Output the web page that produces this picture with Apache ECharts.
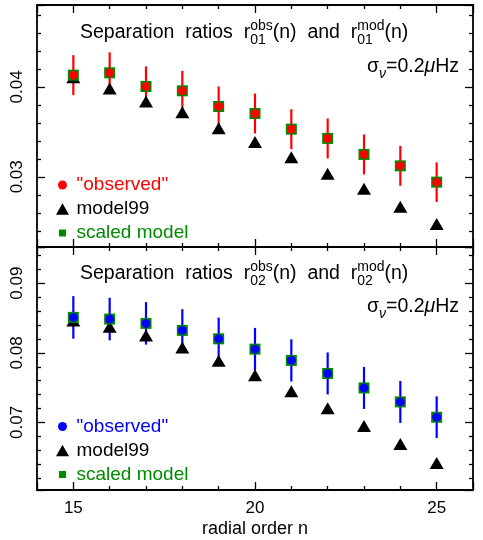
<!DOCTYPE html>
<html>
<head>
<meta charset="utf-8">
<script src="https://cdn.jsdelivr.net/npm/echarts@6.0.0/dist/echarts.min.js"></script>
<style>
html, body { margin: 0; padding: 0; background: #fff; }
#chart { width: 483px; height: 540px; }
</style>
</head>
<body>
<div id="chart"></div>
<script>
const FONT = '"Liberation Sans", Arial, sans-serif';

// radial order n
const radialOrder = [15, 16, 17, 18, 19, 20, 21, 22, 23, 24, 25];

// r01: "observed", model99, scaled model
const r01Observed = [0.0413, 0.04156, 0.04004, 0.03956, 0.03782, 0.03704, 0.0353, 0.03427, 0.03249, 0.03122, 0.02941];
const r01Error = [0.00222, 0.00228, 0.00224, 0.00222, 0.00222, 0.00222, 0.00222, 0.00222, 0.00222, 0.00222, 0.0022];
const r01Model99 = [0.04108, 0.03982, 0.03838, 0.03717, 0.03541, 0.03386, 0.03219, 0.03033, 0.02867, 0.02667, 0.02477];
const r01Scaled = [0.0413, 0.04156, 0.04004, 0.03956, 0.03782, 0.03704, 0.0353, 0.03427, 0.03249, 0.03122, 0.02941];

// r02: "observed", model99, scaled model
const r02Observed = [0.08509, 0.08485, 0.08423, 0.08322, 0.08201, 0.08053, 0.07891, 0.07704, 0.07496, 0.07295, 0.07075];
const r02Error = [0.00306, 0.00306, 0.00305, 0.00305, 0.00305, 0.00305, 0.00303, 0.00302, 0.00302, 0.00301, 0.003];
const r02Model99 = [0.08466, 0.08374, 0.0825, 0.08077, 0.07885, 0.07679, 0.07449, 0.07204, 0.0695, 0.0669, 0.06417];
const r02Scaled = [0.08509, 0.08485, 0.08423, 0.08322, 0.08201, 0.08053, 0.07891, 0.07704, 0.07496, 0.07295, 0.07075];

// axis ranges
const nRange = [14, 26];
const r01Range = [0.0222, 0.0491];
const r02Range = [0.0603, 0.0952];

const RED = '#ff0000', BLUE = '#0000ff', GREEN = '#008a00';

const legendText = {
    obs01: '"observed"', mod01: 'model99', sc01: 'scaled model',
    obs02: '"observed"', mod02: 'model99', sc02: 'scaled model'
};

const ICON_CIRCLE = 'path://M0 0M14 14M11.5 7A4.5 4.5 0 1 1 2.5 7A4.5 4.5 0 1 1 11.5 7Z';
const ICON_TRIANGLE = 'path://M0 0M14 14M7 1.2L13.5 12.8L0.5 12.8Z';
const ICON_SQUARE = 'path://M0 0M14 14M3.5 3.5L10.5 3.5L10.5 10.5L3.5 10.5Z';

const lineStyle = { color: '#000', width: 1.8 };
const tickStyle = { color: '#000', width: 1.3 };

function xAxisFor (gridIndex, position, showLabels) {
    return {
        type: 'value',
        gridIndex: gridIndex,
        position: position,
        min: nRange[0],
        max: nRange[1],
        splitNumber: 2,
        axisLine: { show: true, onZero: false, lineStyle: lineStyle },
        axisTick: { show: true, inside: true, length: 8, lineStyle: tickStyle },
        minorTick: { show: true, splitNumber: 5, length: 4, lineStyle: tickStyle },
        splitLine: { show: false },
        minorSplitLine: { show: false },
        axisLabel: {
            show: showLabels, margin: 10, color: '#000', fontSize: 17, fontFamily: FONT,
            showMinLabel: false, showMaxLabel: false
        },
        name: showLabels ? 'radial order n' : '',
        nameLocation: 'middle',
        nameGap: 30,
        nameTextStyle: { color: '#000', fontSize: 18, fontFamily: FONT }
    };
}

function yAxisFor (gridIndex, position, range, showLabels) {
    return {
        type: 'value',
        gridIndex: gridIndex,
        position: position,
        min: range[0],
        max: range[1],
        splitNumber: 3,
        axisLine: { show: true, onZero: false, lineStyle: lineStyle },
        axisTick: { show: true, inside: true, length: 8, lineStyle: tickStyle },
        minorTick: { show: true, splitNumber: 5, length: 4, lineStyle: tickStyle },
        splitLine: { show: false },
        minorSplitLine: { show: false },
        axisLabel: {
            show: showLabels, rotate: 90, margin: 11, color: '#000', fontSize: 17, fontFamily: FONT,
            showMinLabel: false, showMaxLabel: false
        }
    };
}

function pairs (values) {
    return radialOrder.map((n, i) => [n, values[i]]);
}

function errorBars (axisIndex, values, errors, color) {
    return {
        type: 'custom',
        xAxisIndex: axisIndex,
        yAxisIndex: axisIndex,
        silent: true,
        data: radialOrder.map((n, i) => [n, values[i] - errors[i], values[i] + errors[i]]),
        encode: { x: 0, y: [1, 2] },
        renderItem: function (params, api) {
            const lo = api.coord([api.value(0), api.value(1)]);
            const hi = api.coord([api.value(0), api.value(2)]);
            return {
                type: 'line',
                shape: { x1: lo[0], y1: lo[1], x2: hi[0], y2: hi[1] },
                style: { stroke: color, lineWidth: 2.2 }
            };
        }
    };
}

function panelSeries (axisIndex, keys, obs, err, model, scaled, color) {
    return [
        {
            name: keys[1], type: 'scatter', xAxisIndex: axisIndex, yAxisIndex: axisIndex,
            symbol: 'triangle', symbolSize: [14, 12], itemStyle: { color: '#000', opacity: 1 }, data: pairs(model)
        },
        errorBars(axisIndex, obs, err, color),
        {
            name: keys[2], type: 'scatter', xAxisIndex: axisIndex, yAxisIndex: axisIndex,
            symbol: 'rect', symbolSize: 11, itemStyle: { color: GREEN, opacity: 1 }, data: pairs(scaled)
        },
        {
            name: keys[0], type: 'scatter', xAxisIndex: axisIndex, yAxisIndex: axisIndex,
            symbol: 'circle', symbolSize: 9, itemStyle: { color: color, opacity: 1 }, data: pairs(obs)
        }
    ];
}

function legendFor (top, keys, color) {
    const icons = [ICON_CIRCLE, ICON_TRIANGLE, ICON_SQUARE];
    const colors = [color, '#000', GREEN];
    return {
        orient: 'vertical',
        left: 50.5,
        top: top,
        itemWidth: 18,
        itemHeight: 14,
        itemGap: 5,
        selectedMode: false,
        itemStyle: { opacity: 1 },
        data: keys.map((k, i) => ({ name: k, icon: icons[i], textStyle: { color: colors[i] } })),
        formatter: function (name) { return legendText[name]; },
        textStyle: { fontSize: 19, fontFamily: FONT }
    };
}

// text with stacked super/subscripts, laid out by measuring
const measureCtx = document.createElement('canvas').getContext('2d');
function textWidth (s, size, italic) {
    measureCtx.font = (italic ? 'italic ' : '') + size + 'px ' + FONT;
    return measureCtx.measureText(s).width;
}
function textEl (s, x, y, size, italic) {
    return {
        type: 'text', x: x, y: y, silent: true,
        style: {
            text: s, fontSize: size, fontFamily: FONT, fontStyle: italic ? 'italic' : 'normal',
            fill: '#000', align: 'left', verticalAlign: 'middle'
        }
    };
}
function formula (pieces, x, y, alignRight) {
    const MAIN = 19.5, SCRIPT = 14;
    const widths = pieces.map(p => p.t != null
        ? textWidth(p.t, MAIN, p.it)
        : Math.max(p.sup ? textWidth(p.sup, SCRIPT, p.it) : 0, p.sub ? textWidth(p.sub, SCRIPT, p.it) : 0));
    const total = widths.reduce((a, b) => a + b, 0);
    let cx = alignRight ? x - total : x;
    const els = [];
    pieces.forEach((p, i) => {
        if (p.t != null) {
            els.push(textEl(p.t, cx, y, MAIN, p.it));
        } else {
            if (p.sup) els.push(textEl(p.sup, cx, y - 7, SCRIPT, p.it));
            if (p.sub) els.push(textEl(p.sub, cx, y + 7, SCRIPT, p.it));
        }
        cx += widths[i];
    });
    return els;
}

function titlePieces (ell) {
    return [
        { t: 'Separation  ratios  r' }, { sup: 'obs', sub: ell },
        { t: '(n)  and  r' }, { sup: 'mod', sub: ell }, { t: '(n)' }
    ];
}
const sigmaPieces = [{ t: '\u03c3' }, { sub: '\u03bd', it: true }, { t: '=0.2' }, { t: '\u03bc', it: true }, { t: 'Hz' }];

const keys01 = ['obs01', 'mod01', 'sc01'];
const keys02 = ['obs02', 'mod02', 'sc02'];

const chart = echarts.init(document.getElementById('chart'));
chart.setOption({
    animation: false,
    grid: [
        { left: 37, right: 10, top: 5, height: 242, containLabel: false },
        { left: 37, right: 10, top: 247, height: 243, containLabel: false }
    ],
    xAxis: [
        xAxisFor(0, 'bottom', false),
        xAxisFor(0, 'top', false),
        xAxisFor(1, 'bottom', true),
        xAxisFor(1, 'top', false)
    ],
    yAxis: [
        yAxisFor(0, 'left', r01Range, true),
        yAxisFor(0, 'right', r01Range, false),
        yAxisFor(1, 'left', r02Range, true),
        yAxisFor(1, 'right', r02Range, false)
    ],
    legend: [
        legendFor(170.5, keys01, RED),
        legendFor(412, keys02, BLUE)
    ],
    graphic: [].concat(
        formula(titlePieces('01'), 80, 33, false),
        formula(sigmaPieces, 459, 67, true),
        formula(titlePieces('02'), 80, 274, false),
        formula(sigmaPieces, 459, 307, true)
    ),
    series: [].concat(
        panelSeries(0, keys01, r01Observed, r01Error, r01Model99, r01Scaled, RED),
        panelSeries(2, keys02, r02Observed, r02Error, r02Model99, r02Scaled, BLUE)
    )
});
</script>
</body>
</html>
